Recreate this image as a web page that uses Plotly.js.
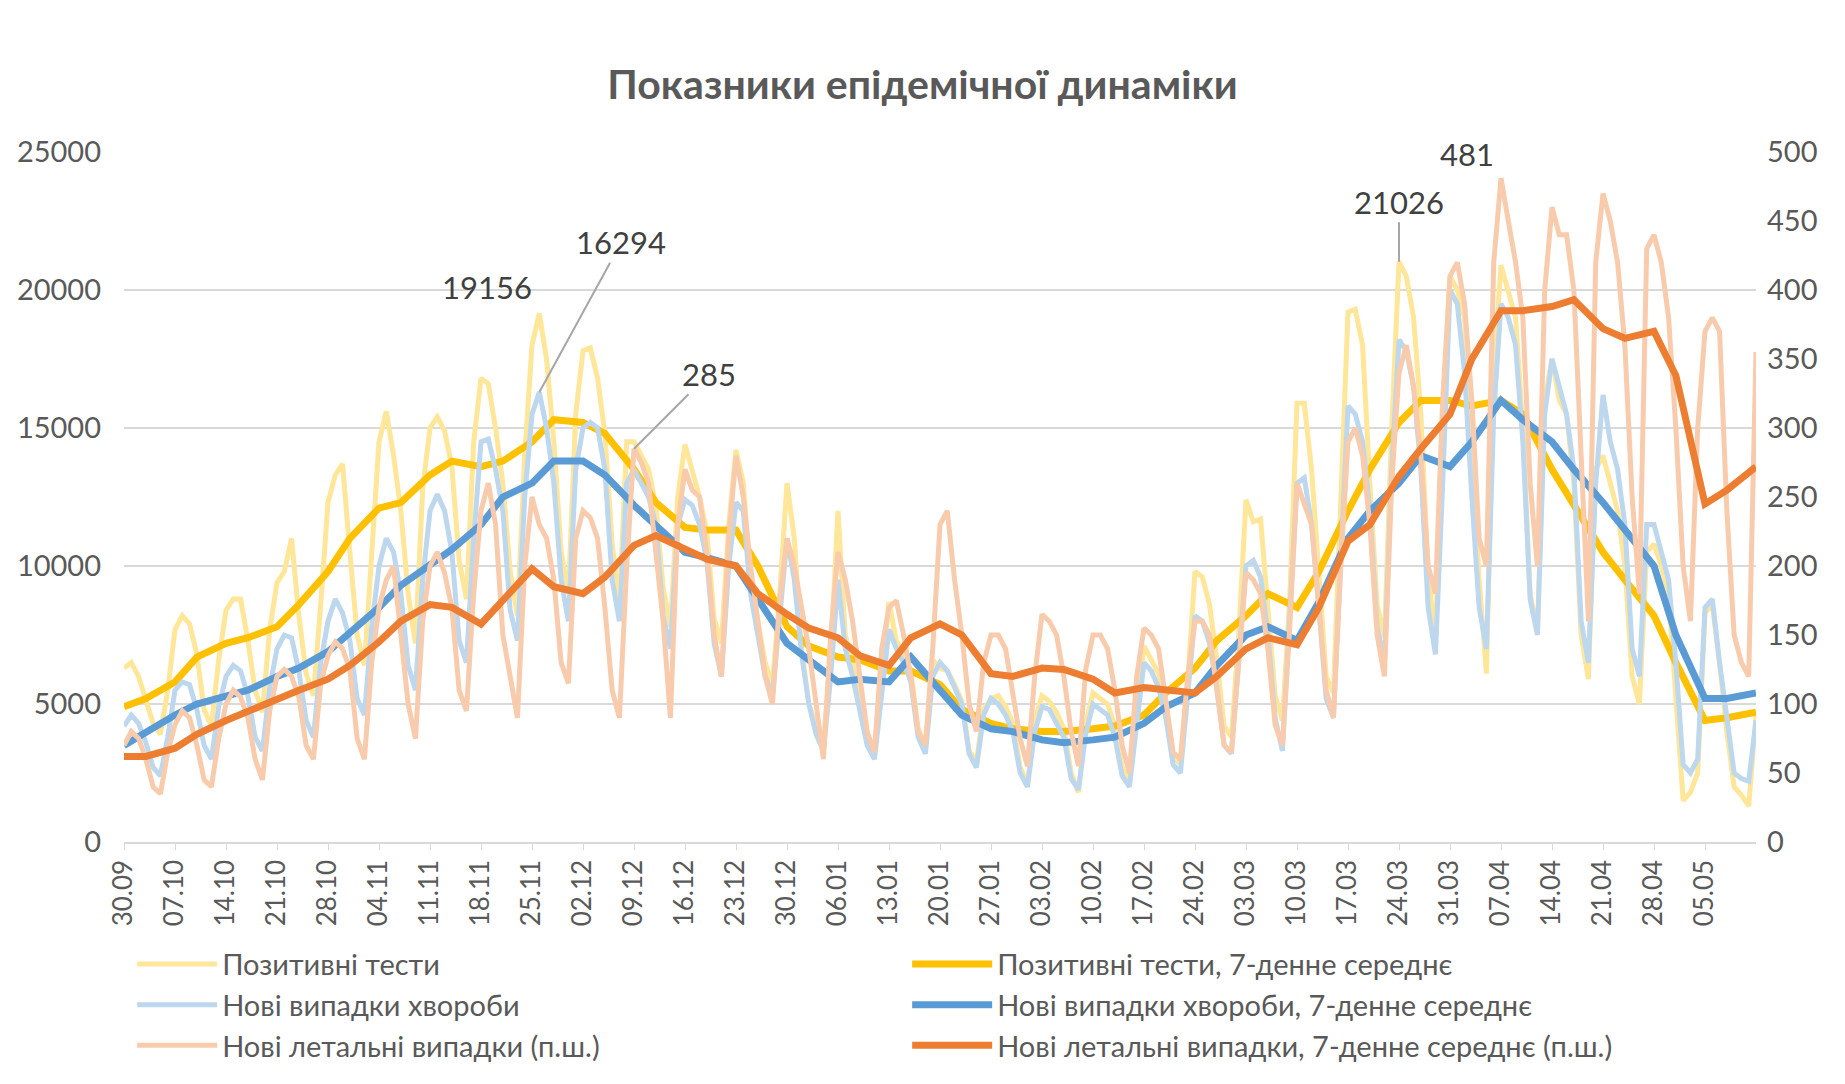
<!DOCTYPE html>
<html>
<head>
<meta charset="utf-8">
<script src="https://cdn.plot.ly/plotly-3.0.1.min.js"></script>
<style>body{margin:0;background:#fff}#chart{width:1845px;height:1084px}</style>
</head>
<body>
<div id="chart"></div>
<script>
// tick labels, one per week starting 30.09
const weekLabels = ['30.09','07.10','14.10','21.10','28.10','04.11','11.11','18.11','25.11','02.12','09.12','16.12','23.12','30.12',
  '06.01','13.01','20.01','27.01','03.02','10.02','17.02','24.02','03.03','10.03','17.03','24.03','31.03','07.04','14.04','21.04','28.04','05.05'];

// daily values, 30.09 .. 12.05 (weeks start on Wednesday)
const posTests = [
  6300,6500,6000,5200,4300,3900,5500,
  7700,8200,7900,6800,4800,4200,6600,
  8400,8800,8800,7300,5500,4700,7700,
  9400,9800,11000,8200,6100,5300,8600,
  12300,13300,13700,10500,7500,6400,10800,
  14500,15600,14000,12000,9000,7200,12800,
  15000,15400,14900,13600,10200,8800,14500,
  16800,16600,15000,13000,9800,8200,14000,
  18000,19156,17500,14500,10500,9000,15500,
  17800,17900,16800,14800,10800,8600,14500,
  14500,14000,13500,12200,9200,7800,12500,
  14400,13500,12500,11200,8100,7200,11500,
  14200,13000,9500,8000,6500,5700,9000,
  13000,11000,7000,5000,4200,3600,6800,
  12000,7500,6500,5200,3800,3300,6000,
  8700,7300,6800,6200,4100,3500,6600,
  6300,6200,5700,5100,3300,2900,4800,
  5200,5300,4900,4300,2700,2100,4400,
  5300,5100,4700,4100,2500,1800,4300,
  5400,5200,5000,4200,2700,2100,4600,
  7100,6600,6100,5000,3100,2800,5800,
  9800,9600,8600,6600,4200,3800,7500,
  12400,11600,11700,8500,5300,4400,8800,
  15900,15900,13500,9500,6000,5400,12600,
  19200,19300,18000,13000,8600,7400,15000,
  21026,20500,19000,15500,9800,7300,15500,
  20500,20000,19000,14000,9500,6100,17000,
  20900,20000,19000,15000,9000,7600,16000,
  17500,16000,15500,13000,7500,5900,13500,
  14000,13000,12000,10000,6000,5000,10500,
  10800,10000,9000,5500,1500,1800,2500,
  8300,8600,6500,4000,2000,1700,1300,
  4600];
const newCases = [
  4200,4600,4300,3600,2700,2400,3800,
  5500,5800,5700,4800,3500,3000,4900,
  6000,6400,6200,5300,3800,3300,5600,
  7000,7500,7400,6200,4400,3800,6500,
  8000,8800,8300,7300,5200,4600,7800,
  10000,11000,10500,9000,6400,5500,9500,
  12000,12600,12000,10500,7300,6500,11000,
  14500,14600,13500,12000,8400,7300,12500,
  15500,16294,15000,13000,9500,8000,13500,
  15000,15200,15000,13500,9500,8000,13000,
  13500,13000,12500,11500,8200,7000,11500,
  12400,12200,11500,10200,7200,6000,10000,
  12300,12000,9000,7500,6000,5300,8000,
  11000,9500,6800,5000,3900,3300,6000,
  9500,7000,6000,4800,3500,3000,5500,
  7700,7000,6500,5800,3800,3200,6000,
  6500,6200,5600,5000,3200,2700,4600,
  5200,5000,4600,4000,2500,2000,4000,
  4900,4800,4300,3800,2300,1900,3900,
  5000,4800,4600,3800,2400,2000,4200,
  6500,6200,5600,4500,2800,2500,5400,
  8200,8000,7200,5600,3500,3200,6500,
  10000,10200,9600,7500,4500,3300,7800,
  13000,13200,11500,8500,5200,4500,10500,
  15800,15500,14500,12000,7800,6500,13500,
  18200,17800,16500,13500,8500,6800,13000,
  20000,19500,17000,12500,8500,7000,15500,
  19500,19000,18000,14500,8800,7500,15500,
  17500,16500,15500,13500,8000,6500,13000,
  16200,14500,13500,11500,7000,6000,11500,
  11500,10500,9500,6500,2800,2500,3000,
  8500,8800,6500,4500,2500,2300,2200,
  4400];
const deaths = [
  70,80,75,60,40,35,65,
  85,95,90,70,45,40,75,
  100,110,105,90,60,45,95,
  120,125,120,105,70,60,115,
  135,145,140,125,75,60,130,
  170,190,200,150,100,75,160,
  200,210,195,170,110,95,180,
  240,260,230,150,120,90,200,
  250,230,220,190,130,115,220,
  240,235,220,170,110,90,200,
  285,275,260,210,160,90,230,
  270,255,250,210,150,120,220,
  280,250,200,160,120,100,175,
  220,200,170,140,100,60,150,
  210,190,160,120,80,65,140,
  170,175,150,120,80,70,140,
  230,240,190,150,100,80,130,
  150,150,140,110,75,55,120,
  165,160,150,120,80,55,125,
  150,150,140,110,70,50,120,
  155,150,140,100,65,60,120,
  160,160,150,110,70,65,130,
  195,190,180,140,85,70,155,
  260,245,230,170,110,90,200,
  290,300,280,230,150,120,260,
  340,360,330,280,200,180,320,
  410,420,390,320,220,200,420,
  481,450,420,380,260,200,400,
  460,440,440,400,280,160,420,
  470,450,420,360,250,180,430,
  440,420,380,300,200,160,300,
  370,380,370,240,150,130,120,
  355];

// 7-day averages, read about twice a week
const avgDays = [0,3,7,10,14,17,21,24,28,31,35,38,42,45,49,52,56,59,63,66,70,73,77,80,84,87,91,94,98,101,105,108,112,115,119,122,126,129,133,136,140,143,147,150,154,157,161,164,168,171,175,178,182,185,189,192,196,199,203,206,210,213,217,220,224];
const posAvg = [4900,5200,5800,6700,7200,7400,7800,8600,9800,11000,12100,12300,13300,13800,13600,13800,14500,15300,15200,14800,13500,12300,11400,11300,11300,10000,7800,7100,6700,6600,6200,6200,5700,4800,4300,4100,4000,4000,4100,4200,4600,5400,6300,7300,8200,9000,8500,9800,12000,13500,15200,16000,16000,15800,16000,15500,13500,12200,10500,9500,8200,6500,4400,4500,4700];
const casesAvg = [3500,4000,4600,5000,5300,5500,6000,6300,6900,7600,8500,9300,10000,10600,11500,12500,13000,13800,13800,13300,12200,11500,10500,10300,10000,8800,7200,6600,5800,5900,5800,6700,5500,4600,4100,4000,3700,3600,3700,3800,4300,4900,5400,6400,7500,7800,7300,8700,11000,12000,13000,14000,13600,14500,16000,15300,14500,13500,12300,11300,10000,7500,5200,5200,5400];
const deathsAvg = [62,62,68,78,88,95,104,110,118,128,145,160,172,170,158,175,198,185,180,192,215,222,213,205,200,180,165,155,148,135,128,148,158,150,122,120,126,125,118,108,112,110,108,120,140,148,143,170,218,230,265,285,310,350,385,385,388,393,372,365,370,338,245,255,272];

const names = ['Позитивні тести','Позитивні тести, 7-денне середнє','Нові випадки хвороби','Нові випадки хвороби, 7-денне середнє','Нові летальні випадки (п.ш.)','Нові летальні випадки, 7-денне середнє (п.ш.)'];

const days = posTests.map((v, i) => i);
const tickVals = weekLabels.map((l, i) => i * 7);

function line(name, x, y, color, width, yaxis) {
  return {type: 'scatter', mode: 'lines', name: name, x: x, y: y, yaxis: yaxis || 'y',
    line: {color: color, width: width, shape: 'linear'}, hoverinfo: 'skip'};
}

const data = [
  line(names[0], days, posTests, '#FFE699', 5),
  line(names[1], avgDays, posAvg, '#FFC000', 7),
  line(names[2], days, newCases, '#BDD7EE', 5),
  line(names[3], avgDays, casesAvg, '#5B9BD5', 7),
  line(names[4], days, deaths, '#F8CBAD', 5, 'y2'),
  line(names[5], avgDays, deathsAvg, '#ED7D31', 7, 'y2')
];

const annFont = {family: 'Lato, "Open Sans", sans-serif', size: 31, color: '#404040'};
const layout = {
  width: 1845, height: 1084,
  margin: {l: 124, r: 89, t: 152, b: 228},
  paper_bgcolor: '#fff', plot_bgcolor: '#fff',
  font: {family: 'Lato, "Open Sans", sans-serif', color: '#595959'},
  title: {text: 'Показники епідемічної динаміки', x: 0.5, xanchor: 'center', y: 0.935,
    font: {size: 41, color: '#595959', family: 'Lato, "Open Sans", sans-serif', weight: 'bold'}},
  xaxis: {range: [0, 224], tickvals: tickVals, ticktext: weekLabels, tickangle: -90,
    showgrid: false, zeroline: false, showline: true, linecolor: '#d9d9d9', linewidth: 1.5,
    ticks: 'outside', tickcolor: '#d9d9d9', ticklen: 6, tickfont: {size: 26, color: '#595959'}},
  yaxis: {range: [0, 25000], dtick: 5000, tickformat: 'd', gridcolor: '#d9d9d9', gridwidth: 1.5, zeroline: false,
    tickfont: {size: 29, color: '#595959'}, ticklabelstandoff: 22},
  yaxis2: {range: [0, 500], dtick: 50, overlaying: 'y', side: 'right', showgrid: false, zeroline: false,
    tickfont: {size: 29, color: '#595959'}, ticklabelstandoff: 10},
  showlegend: true,
  legend: {orientation: 'h', x: 0.005, xanchor: 'left', y: -0.14, yanchor: 'top',
    entrywidth: 680, traceorder: 'normal', font: {size: 29, color: '#595959'}, itemwidth: 80, tracegroupgap: 0},
  annotations: [
    {x: 57, y: 19156, xref: 'x', yref: 'y', text: '19156', showarrow: false, xshift: -52, yshift: 26, font: annFont},
    {x: 57, y: 16294, xref: 'x', yref: 'y', text: '16294', showarrow: true, arrowhead: 0, arrowcolor: '#a6a6a6', arrowwidth: 2,
      ax: 82, ay: -150, font: annFont},
    {x: 70, y: 285, xref: 'x', yref: 'y2', text: '285', showarrow: true, arrowhead: 0, arrowcolor: '#a6a6a6', arrowwidth: 2,
      ax: 75, ay: -75, font: annFont},
    {x: 175, y: 21026, xref: 'x', yref: 'y', text: '21026', showarrow: true, arrowhead: 0, arrowcolor: '#a6a6a6', arrowwidth: 2,
      ax: 0, ay: -60, font: annFont},
    {x: 189, y: 481, xref: 'x', yref: 'y2', text: '481', showarrow: false, xshift: -34, yshift: 24, font: annFont}
  ]
};

Plotly.newPlot('chart', data, layout, {displayModeBar: false, staticPlot: true});
</script>
</body>
</html>
